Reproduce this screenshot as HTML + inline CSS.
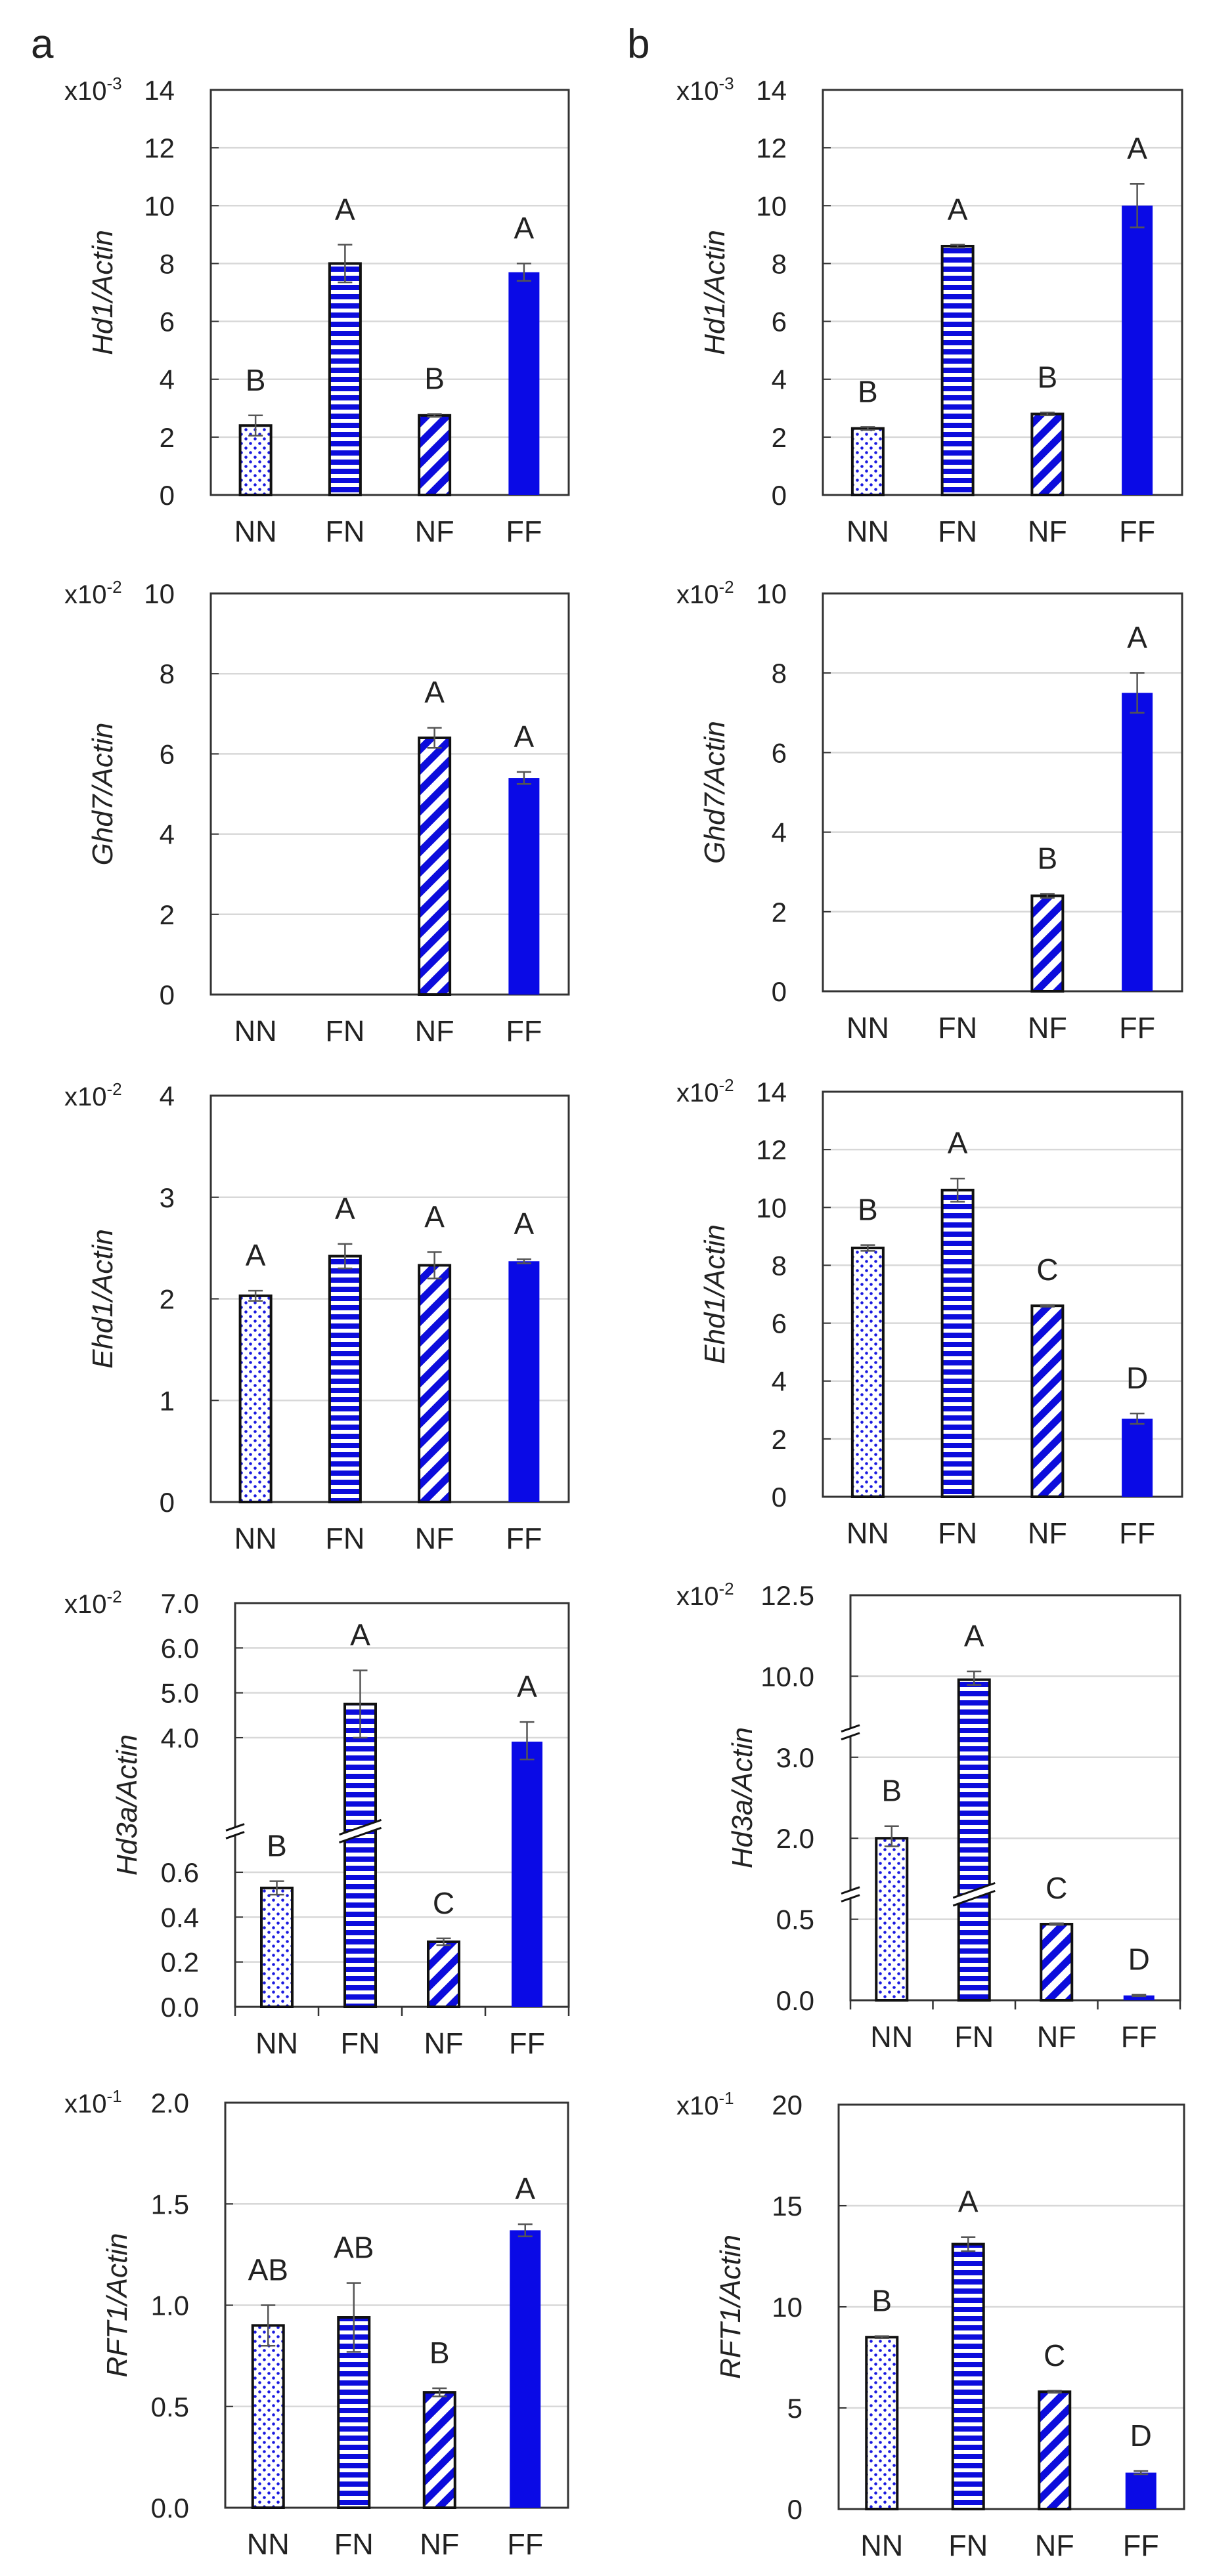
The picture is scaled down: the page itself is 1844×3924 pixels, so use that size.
<!DOCTYPE html>
<html><head><meta charset="utf-8"><style>
html,body{margin:0;padding:0;background:#fff;}
svg{display:block;font-family:"Liberation Sans",Arial,sans-serif;}
</style></head><body>
<svg id="fig" width="1844" height="3924" viewBox="0 0 1844 3924" xmlns="http://www.w3.org/2000/svg">
<defs>
<pattern id="pDots" width="14" height="14" patternUnits="userSpaceOnUse">
<rect width="14" height="14" fill="#fff"/><circle cx="3.5" cy="3.5" r="2.3" fill="#1a1ae0"/><circle cx="10.5" cy="10.5" r="2.3" fill="#1a1ae0"/>
</pattern>
<pattern id="pHor" width="14" height="14" patternUnits="userSpaceOnUse">
<rect width="14" height="14" fill="#fff"/><rect y="0" width="14" height="8" fill="#0c0cdc"/>
</pattern>
<pattern id="pDiag" width="22" height="22" patternUnits="userSpaceOnUse" patternTransform="rotate(45)">
<rect width="22" height="22" fill="#fff"/><rect width="11" height="22" fill="#0c0cdc"/>
</pattern>
</defs>
<text x="47" y="88" font-size="62" fill="#222">a</text>
<text x="955" y="88" font-size="62" fill="#222">b</text>
<g id="plots"></g>
</svg>
<script>
// ---- data ----
const categories = ["NN","FN","NF","FF"];
const hd1A = [2.4, 8.0, 2.75, 7.7];
const hd1AErr = [0.35, 0.65, 0.05, 0.3];
const hd1ALetters = ["B","A","B","A"];
const hd1B = [2.3, 8.6, 2.8, 10.0];
const hd1BErr = [0.05, 0.05, 0.05, 0.75];
const hd1BLetters = ["B","A","B","A"];
const ghd7A = [0, 0, 6.4, 5.4];
const ghd7AErr = [0, 0, 0.25, 0.15];
const ghd7ALetters = ["","","A","A"];
const ghd7B = [0, 0, 2.4, 7.5];
const ghd7BErr = [0, 0, 0.05, 0.5];
const ghd7BLetters = ["","","B","A"];
const ehd1A = [2.03, 2.42, 2.33, 2.37];
const ehd1AErr = [0.05, 0.12, 0.13, 0.02];
const ehd1ALetters = ["A","A","A","A"];
const ehd1B = [8.6, 10.6, 6.6, 2.7];
const ehd1BErr = [0.1, 0.4, 0.03, 0.18];
const ehd1BLetters = ["B","A","C","D"];
const hd3aA = [0.53, 4.75, 0.29, 3.9];
const hd3aAErr = [0.03, 0.75, 0.015, 0.45];
const hd3aALetters = ["B","A","C","A"];
const hd3aB = [2.0, 9.7, 0.47, 0.03];
const hd3aBErr = [0.15, 0.45, 0.005, 0.005];
const hd3aBLetters = ["B","A","C","D"];
const rft1A = [0.9, 0.94, 0.57, 1.37];
const rft1AErr = [0.1, 0.17, 0.02, 0.03];
const rft1ALetters = ["AB","AB","B","A"];
const rft1B = [8.5, 13.1, 5.8, 1.8];
const rft1BErr = [0.05, 0.35, 0.05, 0.08];
const rft1BLetters = ["B","A","C","D"];
// tick labels
const ticks14 = ["0","2","4","6","8","10","12","14"];
const ticks10 = ["0","2","4","6","8","10"];
const ticks4 = ["0","1","2","3","4"];
const ticksHd3aA = ["0.0","0.2","0.4","0.6","4.0","5.0","6.0","7.0"];
const ticksHd3aB = ["0.0","0.5","2.0","3.0","10.0","12.5"];
const ticksRftA = ["0.0","0.5","1.0","1.5","2.0"];
const ticksRftB = ["0","5","10","15","20"];
// broken axis stops
const hd3aAStops = [0, 0.6, 4.0, 7.0];
const hd3aBStops = [0, 0.5, 2.0, 3.0, 10.0, 12.5];

const NS = "http://www.w3.org/2000/svg";
const root = document.getElementById("plots");
function mk(tag, attrs, parent) {
  const e = document.createElementNS(NS, tag);
  for (const k in attrs) e.setAttribute(k, attrs[k]);
  (parent || root).appendChild(e);
  return e;
}
const fills = ["url(#pDots)","url(#pHor)","url(#pDiag)","#0a0ae6"];

function drawPanel(p) {
  const g = mk("g", {});
  
  
  const dom = p.stops || [0, p.max];
  const rng = p.stops ? p.stops.map((_, i) => i) : [0, 1];
  const rmax = rng[rng.length - 1];
  const y = v => {
    let i = 0;
    while (i < dom.length - 2 && v > dom[i + 1]) i++;
    const s = rng[i] + (v - dom[i]) / (dom[i + 1] - dom[i]) * (rng[i + 1] - rng[i]);
    return p.bottom - s / rmax * (p.bottom - p.top);
  };
  const tickVals = p.tickLabels.map(t => parseFloat(t));
  // gridlines
  tickVals.forEach((v, i) => {
    const yy = y(v);
    if (i > 0 && i < tickVals.length - 1) {
      const gl = mk("line", {x1: p.left, x2: p.right, y1: yy, y2: yy, stroke: "#d8d8d8", "stroke-width": 2.5}, g);
      
      
    }
    const tm = mk("line", {x1: p.left, x2: p.left + 12, y1: yy, y2: yy, stroke: "#333", "stroke-width": 2}, g);
    
    
    const tl = mk("text", {x: p.left - 55, y: yy + 15, "font-size": 42, "text-anchor": "end", fill: "#222"}, g);
    tl.textContent = p.tickLabels[i];
    
    
  });
  // frame
  const fr = mk("rect", {x: p.left, y: p.top, width: p.right - p.left, height: p.bottom - p.top, fill: "none", stroke: "#333", "stroke-width": 3}, g);
  
  
  const bw = (p.right - p.left) / 4;
  if (p.bottomTicks) {
    for (let i = 0; i <= 4; i++) {
      const bt = mk("line", {x1: p.left + i * bw, x2: p.left + i * bw, y1: p.bottom, y2: p.bottom + 14, stroke: "#333", "stroke-width": 2.5}, g);
      
      
    }
  }
  // bars
  p.vals.forEach((v, i) => {
    const cx = p.left + (i + 0.5) * bw;
    if (v > 0) {
      const yt = y(v);
      const b = mk("rect", {x: cx - 23.5, y: yt, width: 47, height: p.bottom - yt, fill: fills[i]}, g);
      if (i < 3) { b.setAttribute("stroke", "#111"); b.setAttribute("stroke-width", 4); }
      
      
    }
    const e = p.errs[i];
    if (v > 0 && e > 0) {
      const y1 = y(v + e), y2 = y(Math.max(v - e, 0));
      const el = mk("path", {d: `M${cx},${y1}V${y2}M${cx - 11},${y1}H${cx + 11}M${cx - 11},${y2}H${cx + 11}`, stroke: "#555", "stroke-width": 2.5, fill: "none"}, g);
      
      
    }
    if (p.letters[i]) {
      const lt = mk("text", {x: cx, y: y(v + e) - 38, "font-size": 46, "text-anchor": "middle", fill: "#222"}, g);
      lt.textContent = p.letters[i];
      
      
    }
    const cl = mk("text", {x: cx, y: p.bottom + 71, "font-size": 45, "text-anchor": "middle", fill: "#222"}, g);
    cl.textContent = categories[i];
    
    
  });
  // axis breaks
  if (p.stops) {
    const breakIdx = p.breakAt || [];
    breakIdx.forEach(k => {
      const yb = y(dom[k]) - (y(dom[k]) - y(dom[k + 1])) * 0.3;
      const drawBreak = (x0, w, nm) => {
        const s = w * 0.35;
        const bk = mk("path", {d: `M${x0},${yb + s / 2 + 4}L${x0 + w},${yb - s / 2 + 4}L${x0 + w},${yb - s / 2 - 6}L${x0},${yb + s / 2 - 6}Z`, fill: "#fff", stroke: "none"}, g);
        
        
        const bl = mk("path", {d: `M${x0},${yb + s / 2 + 5}L${x0 + w},${yb - s / 2 + 5}M${x0},${yb + s / 2 - 7}L${x0 + w},${yb - s / 2 - 7}`, stroke: "#111", "stroke-width": 3, fill: "none"}, g);
        
        
      };
      drawBreak(p.left - 14, 28, 'axis-break');
      p.vals.forEach((v, i) => {
        if (v > dom[k + 1]) drawBreak(p.left + (i + 0.5) * bw - 32, 64, 'bar-break');
      });
    });
  }
  // exponent label
  const ex = mk("text", {x: p.expX, y: p.top + 15, "font-size": 40, fill: "#222"}, g);
  
  
  const t1 = mk("tspan", {}, ex); t1.textContent = "x10";
  const t2 = mk("tspan", {dy: -16, "font-size": 26}, ex); t2.textContent = p.exp;
  // y title
  const cy = (p.top + p.bottom) / 2, tx = p.left - 150;
  const yt = mk("text", {x: tx, y: cy, "font-size": 44, "font-style": "italic", "text-anchor": "middle", fill: "#222", transform: `rotate(-90 ${tx} ${cy})`}, g);
  yt.textContent = p.title + "/Actin";
  
  
}

const A = 98, B = 1030;
drawPanel({name:"hd1-chart-a", left:321, right:866, top:137, bottom:754, max:14, tickLabels:ticks14, vals:hd1A, errs:hd1AErr, letters:hd1ALetters, exp:"-3", expX:A, title:"Hd1"});
drawPanel({name:"hd1-chart-b", left:1253, right:1800, top:137, bottom:754, max:14, tickLabels:ticks14, vals:hd1B, errs:hd1BErr, letters:hd1BLetters, exp:"-3", expX:B, title:"Hd1"});
drawPanel({name:"ghd7-chart-a", left:321, right:866, top:904, bottom:1515, max:10, tickLabels:ticks10, vals:ghd7A, errs:ghd7AErr, letters:ghd7ALetters, exp:"-2", expX:A, title:"Ghd7"});
drawPanel({name:"ghd7-chart-b", left:1253, right:1800, top:904, bottom:1510, max:10, tickLabels:ticks10, vals:ghd7B, errs:ghd7BErr, letters:ghd7BLetters, exp:"-2", expX:B, title:"Ghd7"});
drawPanel({name:"ehd1-chart-a", left:321, right:866, top:1669, bottom:2288, max:4, tickLabels:ticks4, vals:ehd1A, errs:ehd1AErr, letters:ehd1ALetters, exp:"-2", expX:A, title:"Ehd1"});
drawPanel({name:"ehd1-chart-b", left:1253, right:1800, top:1663, bottom:2280, max:14, tickLabels:ticks14, vals:ehd1B, errs:ehd1BErr, letters:ehd1BLetters, exp:"-2", expX:B, title:"Ehd1"});
drawPanel({name:"hd3a-chart-a", left:358, right:866, top:2442, bottom:3057, stops:hd3aAStops, breakAt:[1], bottomTicks:true, tickLabels:ticksHd3aA, vals:hd3aA, errs:hd3aAErr, letters:hd3aALetters, exp:"-2", expX:A, title:"Hd3a"});
drawPanel({name:"hd3a-chart-b", left:1295, right:1797, top:2430, bottom:3047, stops:hd3aBStops, breakAt:[1,3], bottomTicks:true, tickLabels:ticksHd3aB, vals:hd3aB, errs:hd3aBErr, letters:hd3aBLetters, exp:"-2", expX:B, title:"Hd3a"});
drawPanel({name:"rft1-chart-a", left:343, right:865, top:3203, bottom:3820, max:2, tickLabels:ticksRftA, vals:rft1A, errs:rft1AErr, letters:rft1ALetters, exp:"-1", expX:A, title:"RFT1"});
drawPanel({name:"rft1-chart-b", left:1277, right:1803, top:3206, bottom:3822, max:20, tickLabels:ticksRftB, vals:rft1B, errs:rft1BErr, letters:rft1BLetters, exp:"-1", expX:B, title:"RFT1"});
</script>
</body></html>
